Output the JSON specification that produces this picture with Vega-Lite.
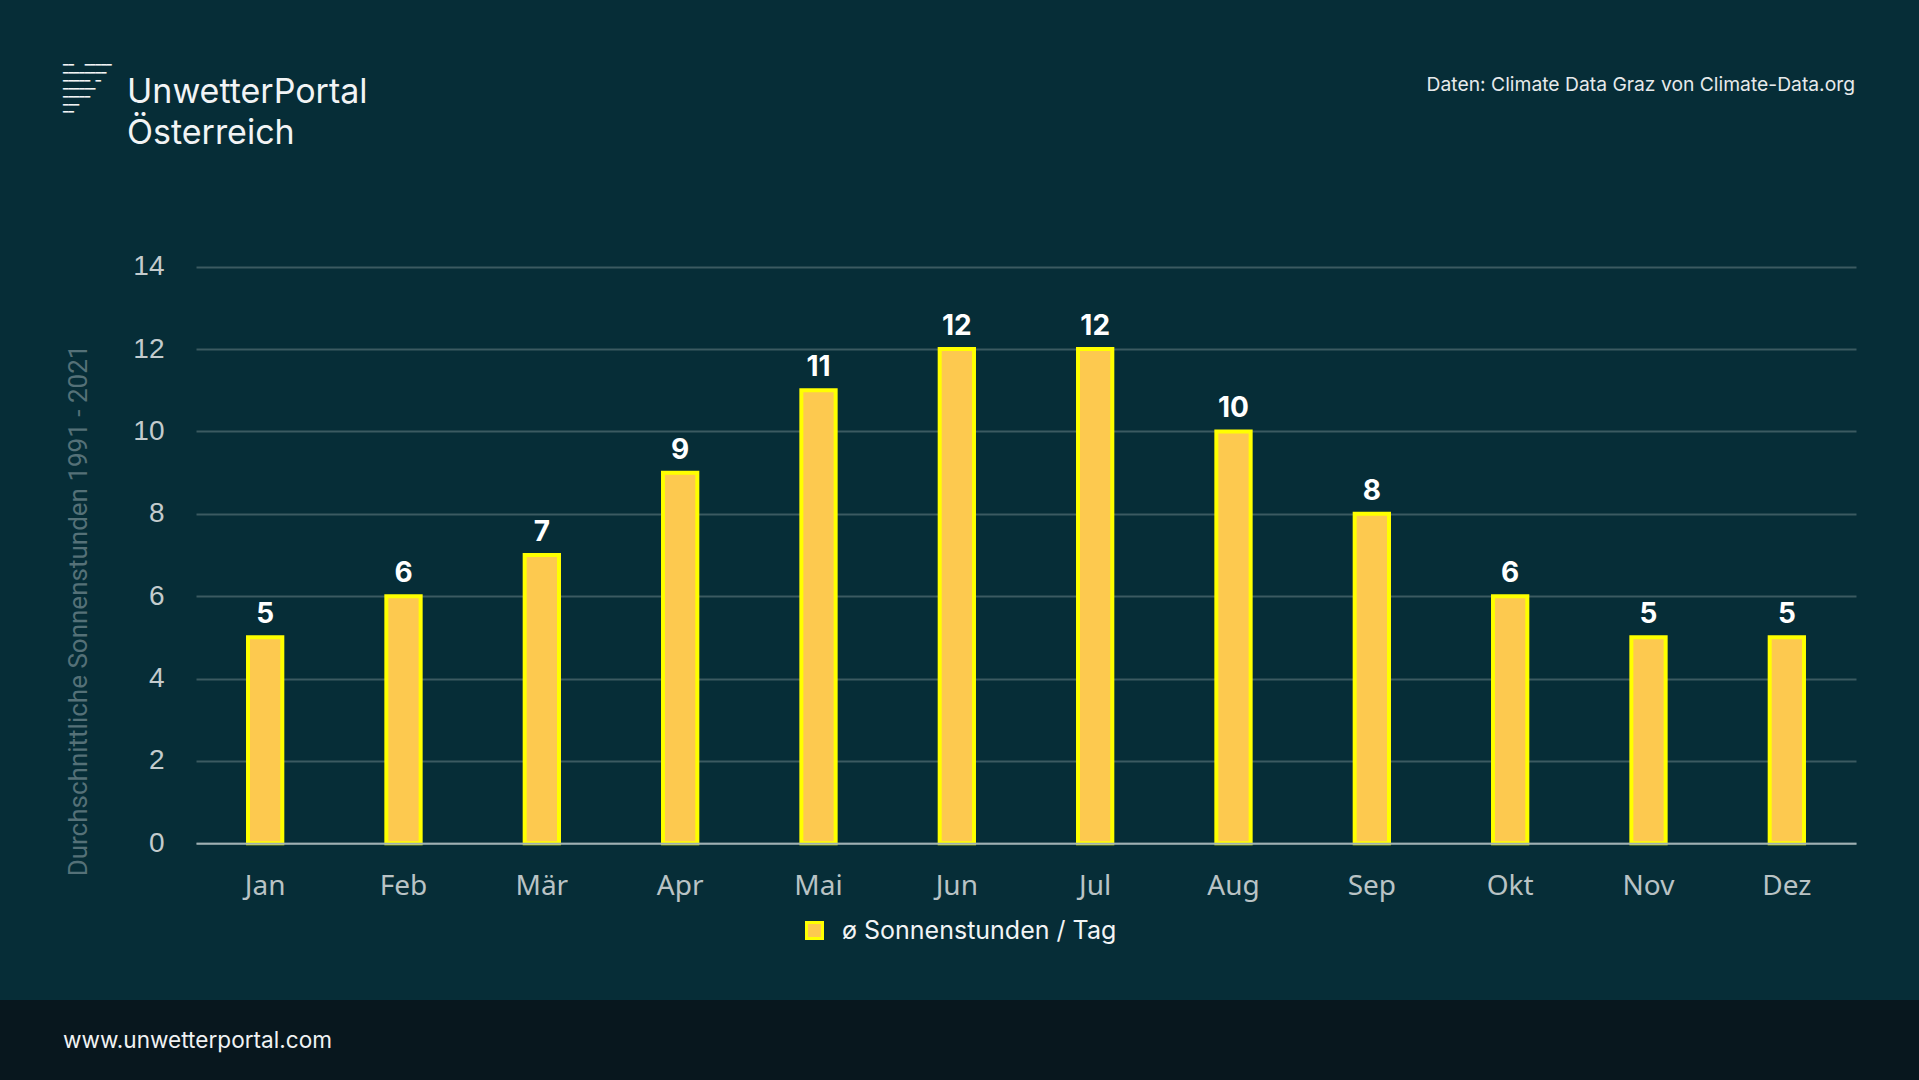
{
  "$schema": "https://vega.github.io/schema/vega-lite/v6.json",
  "background": "#062d37",
  "padding": 0,
  "spacing": 0,
  "bounds": "full",
  "config": {
    "view": {"stroke": null, "fill": "#062d37"},
    "font": "Inter",
    "concat": {"spacing": 0}
  },
  "vconcat": [
    {
      "hconcat": [
        {
          "width": 120,
          "height": 200,
          "data": {"values": []},
          "mark": {"type": "text"},
          "title": {
            "text": [
              "━━\u00a0\u00a0━━━━━",
              "\u00a0━━━━━━━━",
              "\u00a0\u00a0━━━━━\u00a0━",
              "\u00a0\u00a0━━━━━━",
              "\u00a0\u00a0━━━━━",
              "\u00a0\u00a0\u00a0━━━",
              "\u00a0\u00a0\u00a0\u00a0━━"
            ],
            "orient": "bottom",
            "anchor": "start",
            "frame": "group",
            "align": "left",
            "baseline": "alphabetic",
            "offset": -132,
            "dx": 63,
            "lineHeight": 7.9,
            "font": "DejaVu Sans Mono",
            "fontSize": 9,
            "fontWeight": 400,
            "color": "#f2f4f5"
          }
        },
        {
          "width": 840,
          "height": 200,
          "data": {"values": []},
          "mark": {"type": "text"},
          "title": {
            "text": ["UnwetterPortal", "Österreich"],
            "orient": "bottom",
            "anchor": "start",
            "frame": "group",
            "align": "left",
            "baseline": "alphabetic",
            "offset": -97,
            "dx": 7,
            "lineHeight": 41,
            "font": "Inter",
            "fontSize": 34,
            "fontWeight": 400,
            "color": "#f2f4f5"
          }
        },
        {
          "width": 959,
          "height": 200,
          "data": {"values": []},
          "mark": {"type": "text"},
          "title": {
            "text": "Daten: Climate Data Graz von Climate-Data.org",
            "orient": "bottom",
            "anchor": "end",
            "frame": "group",
            "align": "right",
            "baseline": "alphabetic",
            "offset": -109,
            "dx": -64,
            "font": "Inter",
            "fontSize": 19.3,
            "fontWeight": 400,
            "color": "#e6eaeb"
          }
        }
      ],
      "spacing": 0,
      "bounds": "full"
    },
    {
      "width": 1919,
      "height": 800,
      "data": {
        "values": [
          {"Monat": "Jan", "Stunden": 5, "Serie": "ø Sonnenstunden / Tag"},
          {"Monat": "Feb", "Stunden": 6, "Serie": "ø Sonnenstunden / Tag"},
          {"Monat": "Mär", "Stunden": 7, "Serie": "ø Sonnenstunden / Tag"},
          {"Monat": "Apr", "Stunden": 9, "Serie": "ø Sonnenstunden / Tag"},
          {"Monat": "Mai", "Stunden": 11, "Serie": "ø Sonnenstunden / Tag"},
          {"Monat": "Jun", "Stunden": 12, "Serie": "ø Sonnenstunden / Tag"},
          {"Monat": "Jul", "Stunden": 12, "Serie": "ø Sonnenstunden / Tag"},
          {"Monat": "Aug", "Stunden": 10, "Serie": "ø Sonnenstunden / Tag"},
          {"Monat": "Sep", "Stunden": 8, "Serie": "ø Sonnenstunden / Tag"},
          {"Monat": "Okt", "Stunden": 6, "Serie": "ø Sonnenstunden / Tag"},
          {"Monat": "Nov", "Stunden": 5, "Serie": "ø Sonnenstunden / Tag"},
          {"Monat": "Dez", "Stunden": 5, "Serie": "ø Sonnenstunden / Tag"}
        ]
      },
      "encoding": {
        "x": {
          "field": "Monat",
          "type": "nominal",
          "sort": null,
          "scale": {"range": [196, 1856], "paddingInner": 0, "paddingOuter": 0},
          "axis": {
            "title": null,
            "orient": "bottom",
            "offset": -156.7,
            "labelAngle": 0,
            "ticks": false,
            "tickSize": 0,
            "labelPadding": 51,
            "labelBaseline": "alphabetic",
            "labelFont": "Noto Sans",
            "labelFontSize": 28,
            "labelColor": "#b9c3c5",
            "domain": true,
            "domainColor": "#9fb0b3",
            "domainWidth": 2,
            "grid": false,
            "zindex": 1
          }
        },
        "y": {
          "field": "Stunden",
          "type": "quantitative",
          "scale": {"domain": [0, 14], "range": [643.3, 66.7], "nice": false, "zero": true},
          "axis": {
            "title": "Durchschnittliche Sonnenstunden 1991 - 2021",
            "orient": "left",
            "offset": -196,
            "values": [0, 2, 4, 6, 8, 10, 12, 14],
            "ticks": false,
            "tickSize": 0,
            "domain": false,
            "grid": true,
            "gridColor": "#3b5a61",
            "gridWidth": 2,
            "labelPadding": 32,
            "labelFont": "Liberation Sans",
            "labelFontSize": 28,
            "labelColor": "#c3cbcd",
            "labelBaseline": "middle",
            "titleFont": "Roboto",
            "titleFontSize": 26,
            "titleFontWeight": 400,
            "titleColor": "#557178",
            "titleAngle": -90,
            "titleAlign": "center",
            "titleBaseline": "middle",
            "titleX": -118,
            "titleY": 410
          }
        }
      },
      "layer": [
        {
          "mark": {"type": "bar", "width": {"band": 0.248}, "stroke": "#ffff00", "strokeWidth": 4},
          "encoding": {
            "fill": {
              "field": "Serie",
              "type": "nominal",
              "scale": {"range": ["#fdc94f"]},
              "legend": {
                "title": null,
                "orient": "none",
                "legendX": 802,
                "legendY": 918,
                "padding": 0,
                "symbolType": "square",
                "symbolSize": 256,
                "symbolStrokeColor": "#ffff00",
                "symbolStrokeWidth": 3,
                "symbolFillColor": "#f9c25e",
                "symbolOpacity": 1,
                "labelFont": "Inter",
                "labelFontSize": 25,
                "labelColor": "#f2f4f5",
                "labelOffset": 15,
                "labelLimit": 0,
                "encode": {
                  "symbols": {
                    "update": {
                      "fill": {"value": "#f9c25e"},
                      "stroke": {"value": "#ffff00"},
                      "strokeWidth": {"value": 3},
                      "opacity": {"value": 1},
                      "fillOpacity": {"value": 1}
                    }
                  }
                }
              }
            }
          }
        },
        {
          "mark": {
            "type": "text",
            "baseline": "alphabetic",
            "dy": -14,
            "font": "Inter",
            "fontSize": 28,
            "fontWeight": 700,
            "fill": "#ffffff"
          },
          "encoding": {"text": {"field": "Stunden", "type": "quantitative"}}
        }
      ]
    },
    {
      "width": 1919,
      "height": 80,
      "view": {"fill": "#08171e", "stroke": null},
      "data": {"values": []},
      "mark": {"type": "text"},
      "title": {
        "text": "www.unwetterportal.com",
        "orient": "bottom",
        "anchor": "start",
        "frame": "group",
        "align": "left",
        "baseline": "alphabetic",
        "offset": -32,
        "dx": 63,
        "font": "Inter",
        "fontSize": 22.6,
        "fontWeight": 400,
        "color": "#f0f2f3"
      }
    }
  ]
}
